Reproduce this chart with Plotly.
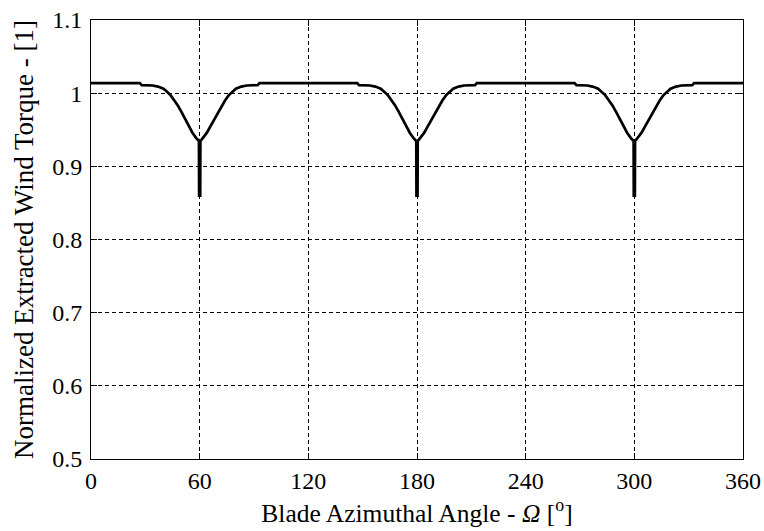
import plotly.graph_objects as go

# Blade azimuthal angle [deg] and normalized extracted wind torque [-]
angle = [
    0, 27, 28, 34, 37, 40, 42, 44, 46, 48, 50, 52, 54, 56, 58, 59.6, 59.7, 60.3, 60.4,
    62, 64, 66, 68, 70, 72, 74, 76, 78, 80, 83, 86, 92, 93,
    147, 148, 154, 157, 160, 162, 164, 166, 168, 170, 172, 174, 176, 178, 179.6, 179.7, 180.3, 180.4,
    182, 184, 186, 188, 190, 192, 194, 196, 198, 200, 203, 206, 212, 213,
    267, 268, 274, 277, 280, 282, 284, 286, 288, 290, 292, 294, 296, 298, 299.6, 299.7, 300.3, 300.4,
    302, 304, 306, 308, 310, 312, 314, 316, 318, 320, 323, 326, 332, 333, 360,
]
torque = [
    1.0137, 1.0137, 1.0110, 1.0105, 1.0090, 1.0060, 1.0020, 0.9970, 0.9900, 0.9830, 0.9740, 0.9640, 0.9550, 0.9460, 0.9390, 0.9345, 0.8600, 0.8600, 0.9345,
    0.9390, 0.9460, 0.9550, 0.9640, 0.9740, 0.9830, 0.9900, 0.9970, 1.0020, 1.0060, 1.0090, 1.0105, 1.0110, 1.0137,
    1.0137, 1.0110, 1.0105, 1.0090, 1.0060, 1.0020, 0.9970, 0.9900, 0.9830, 0.9740, 0.9640, 0.9550, 0.9460, 0.9390, 0.9345, 0.8600, 0.8600, 0.9345,
    0.9390, 0.9460, 0.9550, 0.9640, 0.9740, 0.9830, 0.9900, 0.9970, 1.0020, 1.0060, 1.0090, 1.0105, 1.0110, 1.0137,
    1.0137, 1.0110, 1.0105, 1.0090, 1.0060, 1.0020, 0.9970, 0.9900, 0.9830, 0.9740, 0.9640, 0.9550, 0.9460, 0.9390, 0.9345, 0.8600, 0.8600, 0.9345,
    0.9390, 0.9460, 0.9550, 0.9640, 0.9740, 0.9830, 0.9900, 0.9970, 1.0020, 1.0060, 1.0090, 1.0105, 1.0110, 1.0137, 1.0137,
]

x_ticks = [0, 60, 120, 180, 240, 300, 360]
y_ticks = [0.5, 0.6, 0.7, 0.8, 0.9, 1.0, 1.1]
y_tick_labels = ["0.5", "0.6", "0.7", "0.8", "0.9", "1", "1.1"]

fig = go.Figure(
    go.Scatter(x=angle, y=torque, mode="lines",
               line=dict(color="black", width=2.7), hoverinfo="skip")
)

fig.update_layout(
    width=764, height=531,
    margin=dict(l=91, r=21, t=20, b=72),
    paper_bgcolor="white", plot_bgcolor="white",
    font=dict(family="Liberation Serif", size=24, color="black"),
    showlegend=False,
)

axis_common = dict(
    ticks="inside", ticklen=6, tickcolor="black", tickwidth=1,
    showline=True, linecolor="black", linewidth=1, mirror="ticks",
    showgrid=True, gridcolor="black", gridwidth=1, griddash="4px,3px",
    zeroline=False, automargin=False, ticklabeloverflow="allow",
    tickfont=dict(family="Liberation Serif", size=24, color="black"),
)

fig.update_xaxes(
    range=[0, 360], tickvals=x_ticks,
    title=dict(text="Blade Azimuthal Angle - <i>Ω</i> [<sup>o</sup>]",
               font=dict(family="Liberation Serif", size=25.5, color="black"), standoff=11),
    **axis_common,
)
fig.update_yaxes(
    range=[0.5, 1.1], tickvals=y_ticks, ticktext=y_tick_labels, ticklabelstandoff=3,
    title=dict(text="Normalized Extracted Wind Torque - [1]",
               font=dict(family="Liberation Serif", size=27, color="black"), standoff=10),
    **axis_common,
)

# remove the browser's default 8px body margin so the figure fills the window exactly
fig.write_html("out.html", config={"displayModeBar": False},
               post_script="document.body.style.margin='0';")
